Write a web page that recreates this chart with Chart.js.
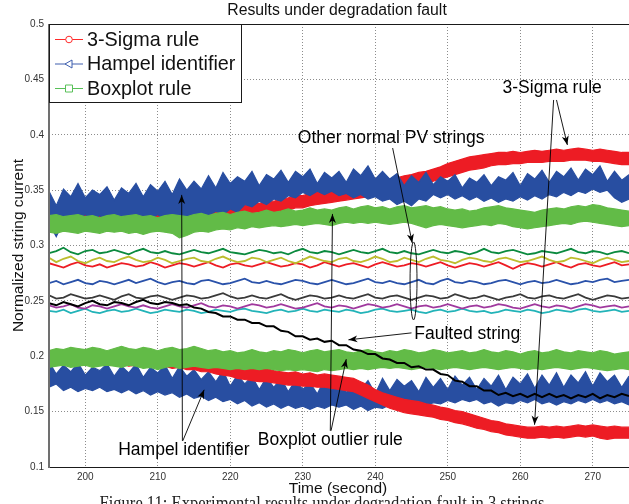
<!DOCTYPE html>
<html>
<head>
<meta charset="utf-8">
<title>Results under degradation fault</title>
<script src="https://cdn.jsdelivr.net/npm/chart.js@4.4.0/dist/chart.umd.min.js"></script>
<style>
  html, body { margin: 0; padding: 0; background: #fff; }
  canvas { display: block; }
</style>
</head>
<body>
<canvas id="chart" width="629" height="504"></canvas>
<script>
// time axis (second)
const times = [195, 196, 197, 198, 199, 200, 201, 202, 203, 204,
  205, 206, 207, 208, 209, 210, 211, 212, 213, 214,
  215, 216, 217, 218, 219, 220, 221, 222, 223, 224,
  225, 226, 227, 228, 229, 230, 231, 232, 233, 234,
  235, 236, 237, 238, 239, 240, 241, 242, 243, 244,
  245, 246, 247, 248, 249, 250, 251, 252, 253, 254,
  255, 256, 257, 258, 259, 260, 261, 262, 263, 264,
  265, 266, 267, 268, 269, 270, 271, 272, 273, 274,
  275];
const xTicks = [200, 210, 220, 230, 240, 250, 260, 270];
const yTicks = [0.1, 0.15, 0.2, 0.25, 0.3, 0.35, 0.4, 0.45, 0.5];
const yTickLabels = ['0.1', '0.15', '0.2', '0.25', '0.3', '0.35', '0.4', '0.45', '0.5'];
const legendLabels = ['3-Sigma rule', 'Hampel identifier', 'Boxplot rule'];

// 3-Sigma rule thresholds (upper / lower envelopes)
const sigmaUpHi = [0.331,0.329,0.332,0.330,0.331,0.329,0.332,0.330,0.331,0.330,
  0.332,0.330,0.331,0.329,0.332,0.330,0.331,0.330,0.332,0.331,
  0.333,0.332,0.334,0.333,0.335,0.334,0.336,0.336,0.338,0.338,
  0.340,0.340,0.342,0.343,0.345,0.345,0.347,0.348,0.349,0.351,
  0.352,0.353,0.354,0.355,0.356,0.357,0.358,0.360,0.361,0.363,
  0.364,0.366,0.367,0.369,0.371,0.374,0.376,0.378,0.380,0.381,
  0.382,0.383,0.384,0.384,0.385,0.384,0.385,0.386,0.385,0.386,
  0.387,0.386,0.387,0.388,0.387,0.386,0.387,0.386,0.385,0.384,
  0.384];
const sigmaUpLo = [0.320,0.319,0.321,0.320,0.320,0.318,0.321,0.319,0.320,0.319,
  0.321,0.319,0.320,0.318,0.321,0.319,0.320,0.319,0.321,0.320,
  0.322,0.321,0.323,0.322,0.324,0.323,0.325,0.325,0.327,0.327,
  0.329,0.329,0.331,0.332,0.334,0.334,0.336,0.337,0.338,0.339,
  0.340,0.341,0.342,0.343,0.344,0.345,0.346,0.348,0.350,0.352,
  0.353,0.355,0.356,0.358,0.360,0.362,0.364,0.366,0.368,0.369,
  0.370,0.372,0.373,0.373,0.374,0.374,0.375,0.375,0.375,0.376,
  0.376,0.376,0.377,0.377,0.377,0.376,0.376,0.375,0.374,0.373,
  0.373];
const sigmaLowHi = [0.205,0.204,0.205,0.203,0.204,0.205,0.204,0.203,0.204,0.203,
  0.204,0.202,0.203,0.202,0.203,0.201,0.202,0.200,0.201,0.199,
  0.199,0.197,0.197,0.195,0.194,0.193,0.191,0.190,0.189,0.188,
  0.189,0.187,0.186,0.185,0.186,0.184,0.185,0.183,0.184,0.183,
  0.182,0.181,0.180,0.177,0.174,0.170,0.167,0.165,0.163,0.161,
  0.160,0.159,0.157,0.156,0.154,0.153,0.151,0.150,0.148,0.146,
  0.144,0.142,0.141,0.139,0.138,0.137,0.136,0.136,0.137,0.136,
  0.137,0.136,0.137,0.138,0.137,0.138,0.137,0.136,0.137,0.136,
  0.136];
const sigmaLowLo = [0.194,0.193,0.194,0.192,0.193,0.194,0.193,0.192,0.193,0.192,
  0.193,0.191,0.192,0.191,0.192,0.190,0.191,0.189,0.190,0.188,
  0.188,0.186,0.186,0.184,0.183,0.182,0.180,0.179,0.178,0.177,
  0.177,0.176,0.175,0.174,0.174,0.173,0.173,0.172,0.172,0.171,
  0.170,0.169,0.168,0.165,0.162,0.159,0.156,0.153,0.151,0.149,
  0.148,0.147,0.146,0.145,0.143,0.142,0.140,0.139,0.137,0.135,
  0.134,0.132,0.131,0.129,0.128,0.127,0.126,0.126,0.127,0.126,
  0.127,0.126,0.127,0.128,0.127,0.128,0.126,0.125,0.126,0.126,
  0.126];

// Hampel identifier thresholds
const hampelUpHi = [0.349,0.336,0.351,0.344,0.356,0.343,0.350,0.346,0.353,0.341,
  0.352,0.347,0.356,0.344,0.355,0.349,0.358,0.346,0.360,0.350,
  0.358,0.351,0.363,0.352,0.366,0.356,0.362,0.358,0.367,0.354,
  0.364,0.360,0.368,0.357,0.367,0.362,0.369,0.356,0.366,0.361,
  0.367,0.357,0.369,0.363,0.372,0.360,0.367,0.360,0.365,0.354,
  0.363,0.357,0.366,0.355,0.362,0.358,0.364,0.352,0.361,0.357,
  0.364,0.354,0.362,0.359,0.366,0.354,0.365,0.360,0.368,0.357,
  0.367,0.362,0.370,0.359,0.369,0.364,0.372,0.358,0.367,0.359,
  0.364];
const hampelUpLo = [0.320,0.308,0.322,0.326,0.324,0.328,0.323,0.327,0.322,0.325,
  0.321,0.326,0.323,0.327,0.324,0.328,0.323,0.327,0.322,0.326,
  0.324,0.329,0.327,0.331,0.328,0.333,0.330,0.337,0.335,0.340,
  0.337,0.342,0.340,0.345,0.343,0.348,0.345,0.349,0.346,0.349,
  0.345,0.347,0.343,0.346,0.342,0.344,0.340,0.342,0.337,0.340,
  0.336,0.342,0.340,0.346,0.343,0.346,0.342,0.345,0.341,0.344,
  0.340,0.343,0.339,0.342,0.340,0.344,0.341,0.345,0.342,0.346,
  0.344,0.348,0.345,0.349,0.347,0.351,0.348,0.350,0.343,0.339,
  0.342];
const hampelLowHi = [0.195,0.184,0.192,0.186,0.194,0.183,0.190,0.187,0.193,0.182,
  0.191,0.185,0.193,0.181,0.190,0.185,0.192,0.180,0.191,0.182,
  0.188,0.179,0.186,0.177,0.187,0.173,0.183,0.175,0.182,0.170,
  0.181,0.172,0.180,0.168,0.178,0.170,0.176,0.166,0.179,0.169,
  0.181,0.167,0.177,0.170,0.178,0.166,0.180,0.169,0.179,0.173,
  0.178,0.168,0.181,0.172,0.180,0.170,0.182,0.174,0.181,0.170,
  0.180,0.173,0.183,0.170,0.181,0.175,0.184,0.171,0.183,0.174,
  0.185,0.172,0.183,0.176,0.186,0.173,0.185,0.177,0.183,0.172,
  0.182];
const hampelLowLo = [0.172,0.175,0.169,0.172,0.168,0.171,0.169,0.172,0.168,0.170,
  0.167,0.170,0.166,0.169,0.165,0.168,0.165,0.167,0.163,0.166,
  0.162,0.164,0.160,0.163,0.159,0.161,0.157,0.160,0.155,0.158,
  0.154,0.157,0.153,0.156,0.153,0.155,0.152,0.155,0.153,0.156,
  0.154,0.156,0.152,0.155,0.151,0.154,0.153,0.156,0.155,0.158,
  0.156,0.158,0.155,0.158,0.157,0.160,0.158,0.161,0.159,0.161,
  0.157,0.159,0.155,0.158,0.157,0.160,0.158,0.161,0.157,0.159,
  0.156,0.159,0.157,0.160,0.158,0.161,0.158,0.160,0.157,0.159,
  0.156];

// Boxplot rule thresholds
const boxUpHi = [0.327,0.328,0.326,0.327,0.328,0.326,0.327,0.325,0.327,0.328,
  0.326,0.327,0.328,0.326,0.327,0.325,0.327,0.328,0.327,0.326,
  0.328,0.329,0.327,0.329,0.330,0.328,0.330,0.331,0.329,0.330,
  0.332,0.330,0.331,0.333,0.331,0.332,0.334,0.332,0.333,0.332,
  0.334,0.335,0.333,0.335,0.336,0.334,0.335,0.333,0.335,0.336,
  0.334,0.335,0.336,0.334,0.335,0.333,0.332,0.333,0.331,0.332,
  0.334,0.335,0.336,0.334,0.333,0.332,0.331,0.330,0.332,0.333,
  0.334,0.333,0.335,0.336,0.335,0.337,0.336,0.334,0.333,0.332,
  0.331];
const boxUpLo = [0.312,0.311,0.313,0.312,0.311,0.313,0.312,0.311,0.313,0.312,
  0.313,0.311,0.312,0.310,0.312,0.313,0.312,0.311,0.307,0.309,
  0.312,0.313,0.312,0.314,0.315,0.314,0.316,0.315,0.317,0.316,
  0.317,0.318,0.317,0.318,0.319,0.318,0.319,0.320,0.319,0.318,
  0.320,0.321,0.320,0.321,0.320,0.321,0.320,0.319,0.320,0.321,
  0.320,0.318,0.316,0.318,0.319,0.318,0.317,0.316,0.317,0.318,
  0.319,0.318,0.320,0.319,0.317,0.316,0.315,0.316,0.317,0.318,
  0.319,0.320,0.319,0.321,0.322,0.321,0.320,0.319,0.318,0.317,
  0.318];
const boxLowHi = [0.205,0.207,0.206,0.208,0.207,0.206,0.208,0.207,0.205,0.207,
  0.209,0.207,0.206,0.208,0.207,0.205,0.207,0.208,0.206,0.207,
  0.209,0.207,0.205,0.206,0.204,0.205,0.203,0.204,0.206,0.204,
  0.203,0.205,0.204,0.206,0.205,0.203,0.205,0.206,0.204,0.205,
  0.206,0.204,0.203,0.205,0.206,0.204,0.203,0.205,0.204,0.206,
  0.205,0.203,0.204,0.206,0.205,0.203,0.204,0.205,0.203,0.204,
  0.206,0.204,0.203,0.205,0.204,0.202,0.204,0.205,0.203,0.204,
  0.206,0.204,0.203,0.205,0.204,0.203,0.205,0.204,0.202,0.203,
  0.204];
const boxLowLo = [0.190,0.191,0.192,0.190,0.191,0.192,0.190,0.191,0.192,0.191,
  0.190,0.192,0.191,0.189,0.190,0.188,0.190,0.191,0.189,0.190,
  0.191,0.190,0.189,0.190,0.189,0.188,0.189,0.188,0.189,0.188,
  0.189,0.188,0.187,0.188,0.187,0.188,0.187,0.186,0.188,0.187,
  0.188,0.189,0.188,0.189,0.188,0.189,0.190,0.189,0.190,0.189,
  0.188,0.189,0.190,0.189,0.188,0.189,0.190,0.189,0.188,0.189,
  0.190,0.189,0.188,0.189,0.190,0.189,0.188,0.189,0.188,0.189,
  0.190,0.189,0.188,0.189,0.190,0.189,0.188,0.187,0.188,0.189,
  0.188];

// normal PV strings
const stringGreen = [0.293,0.295,0.298,0.294,0.292,0.295,0.296,0.293,0.294,0.296,
  0.294,0.292,0.295,0.297,0.294,0.293,0.295,0.293,0.292,0.294,
  0.296,0.294,0.293,0.295,0.297,0.294,0.293,0.292,0.294,0.296,
  0.295,0.293,0.294,0.292,0.295,0.297,0.294,0.293,0.295,0.294,
  0.292,0.294,0.296,0.294,0.293,0.295,0.297,0.294,0.293,0.295,
  0.293,0.292,0.294,0.296,0.294,0.293,0.295,0.294,0.292,0.294,
  0.297,0.294,0.293,0.295,0.296,0.294,0.292,0.293,0.295,0.294,
  0.293,0.295,0.297,0.294,0.293,0.295,0.294,0.292,0.294,0.295,
  0.293];
const stringYellow = [0.289,0.285,0.288,0.290,0.286,0.284,0.287,0.289,0.286,0.285,
  0.288,0.290,0.287,0.285,0.286,0.289,0.287,0.284,0.286,0.288,
  0.289,0.286,0.285,0.288,0.290,0.287,0.285,0.286,0.289,0.288,
  0.285,0.287,0.289,0.286,0.284,0.287,0.290,0.288,0.286,0.285,
  0.288,0.289,0.286,0.285,0.287,0.290,0.288,0.285,0.286,0.289,
  0.287,0.285,0.288,0.290,0.287,0.286,0.284,0.287,0.289,0.288,
  0.286,0.285,0.288,0.289,0.287,0.285,0.286,0.288,0.290,0.287,
  0.285,0.286,0.289,0.288,0.286,0.284,0.287,0.289,0.287,0.285,
  0.286];
const stringRed = [0.284,0.282,0.280,0.283,0.285,0.282,0.281,0.283,0.280,0.282,
  0.284,0.283,0.281,0.282,0.285,0.283,0.280,0.282,0.284,0.283,
  0.281,0.283,0.285,0.282,0.280,0.283,0.284,0.282,0.281,0.283,
  0.285,0.283,0.281,0.282,0.284,0.283,0.280,0.282,0.285,0.283,
  0.281,0.283,0.284,0.282,0.280,0.283,0.285,0.283,0.281,0.282,
  0.284,0.283,0.281,0.283,0.285,0.282,0.280,0.282,0.284,0.283,
  0.281,0.283,0.285,0.282,0.279,0.282,0.284,0.283,0.281,0.283,
  0.285,0.282,0.280,0.283,0.284,0.282,0.281,0.283,0.285,0.282,
  0.283];
const stringBlue = [0.266,0.268,0.265,0.267,0.269,0.266,0.265,0.268,0.267,0.265,
  0.267,0.269,0.266,0.268,0.270,0.267,0.265,0.267,0.268,0.266,
  0.265,0.268,0.269,0.267,0.265,0.266,0.268,0.270,0.267,0.266,
  0.268,0.266,0.265,0.267,0.269,0.268,0.266,0.265,0.267,0.269,
  0.267,0.265,0.266,0.268,0.270,0.267,0.266,0.268,0.266,0.265,
  0.267,0.269,0.266,0.265,0.268,0.270,0.267,0.266,0.268,0.267,
  0.265,0.266,0.268,0.269,0.267,0.265,0.267,0.268,0.266,0.267,
  0.269,0.267,0.265,0.266,0.268,0.267,0.269,0.270,0.267,0.268,
  0.269];
const stringGray = [0.255,0.252,0.253,0.256,0.254,0.252,0.253,0.255,0.253,0.251,
  0.254,0.256,0.253,0.252,0.254,0.255,0.253,0.251,0.253,0.255,
  0.254,0.252,0.253,0.255,0.257,0.254,0.252,0.253,0.255,0.253,
  0.252,0.254,0.256,0.253,0.251,0.253,0.255,0.254,0.252,0.253,
  0.255,0.253,0.252,0.254,0.256,0.253,0.252,0.254,0.255,0.253,
  0.251,0.253,0.255,0.254,0.252,0.253,0.256,0.254,0.252,0.253,
  0.255,0.253,0.251,0.253,0.254,0.256,0.253,0.252,0.254,0.255,
  0.253,0.252,0.254,0.256,0.253,0.251,0.253,0.255,0.254,0.252,
  0.253];
const stringMagenta = [0.246,0.244,0.245,0.247,0.244,0.243,0.246,0.245,0.243,0.245,
  0.247,0.245,0.244,0.246,0.244,0.243,0.245,0.247,0.245,0.244,
  0.246,0.248,0.245,0.244,0.246,0.245,0.243,0.245,0.247,0.246,
  0.244,0.245,0.247,0.245,0.243,0.244,0.246,0.248,0.245,0.244,
  0.246,0.245,0.243,0.245,0.247,0.246,0.244,0.245,0.247,0.245,
  0.243,0.245,0.246,0.244,0.245,0.247,0.245,0.243,0.245,0.246,
  0.244,0.245,0.247,0.246,0.244,0.243,0.245,0.247,0.245,0.244,
  0.246,0.245,0.243,0.245,0.247,0.246,0.244,0.245,0.246,0.244,
  0.245];
const stringCyan = [0.241,0.240,0.242,0.239,0.241,0.243,0.240,0.239,0.241,0.242,
  0.240,0.241,0.243,0.241,0.239,0.240,0.242,0.241,0.240,0.242,
  0.241,0.239,0.240,0.242,0.241,0.240,0.242,0.243,0.241,0.240,
  0.239,0.241,0.242,0.240,0.241,0.243,0.241,0.240,0.242,0.241,
  0.240,0.242,0.241,0.239,0.240,0.242,0.243,0.241,0.240,0.241,
  0.242,0.240,0.239,0.241,0.242,0.240,0.241,0.243,0.241,0.240,
  0.241,0.239,0.240,0.242,0.241,0.240,0.242,0.241,0.239,0.240,
  0.242,0.241,0.240,0.242,0.243,0.241,0.240,0.241,0.242,0.240,
  0.241];
// faulted string
const stringFaulted = [0.248,0.246,0.249,0.247,0.245,0.248,0.250,0.247,0.246,0.249,
  0.248,0.246,0.249,0.251,0.248,0.247,0.249,0.248,0.246,0.247,
  0.244,0.243,0.240,0.239,0.236,0.236,0.233,0.233,0.230,0.230,
  0.227,0.227,0.223,0.222,0.218,0.218,0.215,0.216,0.213,0.214,
  0.210,0.210,0.206,0.205,0.202,0.202,0.198,0.197,0.194,0.194,
  0.190,0.191,0.188,0.188,0.184,0.183,0.178,0.177,0.173,0.173,
  0.169,0.169,0.165,0.167,0.164,0.166,0.163,0.166,0.163,0.166,
  0.163,0.165,0.162,0.165,0.163,0.166,0.162,0.165,0.163,0.166,
  0.164];

const FONT = "'Liberation Sans', Arial, Helvetica, sans-serif";

function pts(arr) {
    return times.map((t, i) => ({ x: t, y: arr[i] }));
}
function band(hi, lo, color, order) {
    return [
        { data: pts(hi), borderColor: color, backgroundColor: color, borderWidth: 1.2, fill: '+1', order: order },
        { data: pts(lo), borderColor: color, backgroundColor: color, borderWidth: 1.2, fill: false, order: order }
    ];
}
function line(arr, color, width) {
    return { data: pts(arr), borderColor: color, borderWidth: width || 1.8, fill: false, order: 0 };
}

const datasets = [].concat(
    band(sigmaUpHi, sigmaUpLo, '#ed1c24', 5),
    band(hampelUpHi, hampelUpLo, '#284ea1', 4),
    band(hampelLowHi, hampelLowLo, '#284ea1', 5),
    band(sigmaLowHi, sigmaLowLo, '#ed1c24', 4),
    band(boxUpHi, boxUpLo, '#62bb47', 2),
    band(boxLowHi, boxLowLo, '#62bb47', 2),
    [
        line(stringFaulted, '#000000', 2),
        line(stringGreen, '#0b8a3e'),
        line(stringYellow, '#bdbd2e'),
        line(stringRed, '#ed1c24'),
        line(stringBlue, '#2a52aa'),
        line(stringGray, '#3a3a3a'),
        line(stringMagenta, '#a0399e'),
        line(stringCyan, '#22b3b8')
    ]
);

// annotations, in data units
const notes = [
    { text: '3-Sigma rule', t: 264.4, v: 0.442 },
    { text: 'Other normal PV strings', t: 242.2, v: 0.397 },
    { text: 'Faulted string', t: 252.7, v: 0.2195 },
    { text: 'Boxplot outlier rule', t: 233.8, v: 0.1245 },
    { text: 'Hampel identifier', t: 213.6, v: 0.1155 }
];
const arrows = [
    [265.0, 0.4314, 266.5, 0.3908],
    [264.6, 0.4314, 261.97, 0.1381],
    [242.4, 0.388, 245.1, 0.3023],
    [245.0, 0.2211, 236.3, 0.2148],
    [233.8, 0.1327, 234.1, 0.3285],
    [233.9, 0.1327, 236.0, 0.1974],
    [213.4, 0.1236, 213.3, 0.3457],
    [213.45, 0.1236, 216.4, 0.1697]
];
const ring = { t: 245.28, v: 0.268, rt: 0.48, rv: 0.0352 };

function arrowHead(ctx, x1, y1, x2, y2) {
    const ang = Math.atan2(y2 - y1, x2 - x1);
    const len = 9, half = 3.5, notch = 6.5;
    ctx.save();
    ctx.translate(x2, y2);
    ctx.rotate(ang);
    ctx.beginPath();
    ctx.moveTo(0, 0);
    ctx.lineTo(-len, -half);
    ctx.lineTo(-notch, 0);
    ctx.lineTo(-len, half);
    ctx.closePath();
    ctx.fill();
    ctx.restore();
}

const decor = {
    id: 'decor',
    beforeDraw(chart) {
        const ctx = chart.ctx;
        ctx.save();
        ctx.fillStyle = '#fff';
        ctx.fillRect(0, 0, chart.width, chart.height);
        ctx.restore();
    },
    afterDraw(chart) {
        const ctx = chart.ctx, a = chart.chartArea;
        const sx = chart.scales.x, sy = chart.scales.y;
        const px = t => sx.getPixelForValue(t), py = v => sy.getPixelForValue(v);
        ctx.save();

        // axes box
        ctx.strokeStyle = '#1a1a1a';
        ctx.lineWidth = 1;
        ctx.beginPath();
        ctx.moveTo(a.left, a.top + 0.5); ctx.lineTo(a.right, a.top + 0.5);
        ctx.moveTo(a.left, a.bottom + 0.5); ctx.lineTo(a.right, a.bottom + 0.5);
        ctx.stroke();
        ctx.strokeStyle = '#707070';
        ctx.lineWidth = 2;
        ctx.beginPath();
        ctx.moveTo(a.left, a.top); ctx.lineTo(a.left, a.bottom + 1);
        ctx.stroke();

        // annotations
        ctx.strokeStyle = '#000';
        ctx.fillStyle = '#000';
        ctx.lineWidth = 0.9;
        arrows.forEach(ar => {
            const x1 = px(ar[0]), y1 = py(ar[1]), x2 = px(ar[2]), y2 = py(ar[3]);
            ctx.beginPath();
            ctx.moveTo(x1, y1);
            ctx.lineTo(x2, y2);
            ctx.stroke();
            arrowHead(ctx, x1, y1, x2, y2);
        });
        ctx.beginPath();
        ctx.ellipse(px(ring.t), py(ring.v), px(ring.t + ring.rt) - px(ring.t), py(ring.v - ring.rv) - py(ring.v), 0, 0, Math.PI * 2);
        ctx.stroke();

        ctx.font = '17.5px ' + FONT;
        ctx.textAlign = 'center';
        ctx.textBaseline = 'middle';
        notes.forEach(n => ctx.fillText(n.text, px(n.t), py(n.v)));

        // legend
        const lx = a.left, ly = a.top, lw = 192, lh = 78;
        ctx.fillStyle = '#fff';
        ctx.fillRect(lx, ly, lw, lh);
        ctx.strokeStyle = '#1a1a1a';
        ctx.lineWidth = 1;
        ctx.strokeRect(lx + 0.5, ly + 0.5, lw, lh);
        const legendColors = ['#ff2a2a', '#3e5fae', '#58c058'];
        ctx.font = '19.8px ' + FONT;
        ctx.textAlign = 'left';
        legendLabels.forEach((lab, i) => {
            const y = ly + 15.5 + i * 24.5;
            const c = legendColors[i];
            ctx.strokeStyle = c;
            ctx.lineWidth = 1;
            ctx.beginPath();
            ctx.moveTo(lx + 6, y); ctx.lineTo(lx + 34, y);
            ctx.stroke();
            const mx = lx + 20;
            ctx.beginPath();
            if (i === 0) ctx.arc(mx, y, 3.3, 0, Math.PI * 2);
            else if (i === 1) { ctx.moveTo(mx - 4, y); ctx.lineTo(mx + 3, y - 4); ctx.lineTo(mx + 3, y + 4); ctx.closePath(); }
            else ctx.rect(mx - 3.5, y - 3.5, 7, 7);
            ctx.fillStyle = '#fff';
            ctx.fill();
            ctx.stroke();
            ctx.fillStyle = '#111';
            ctx.fillText(lab, lx + 38, y + 1);
        });

        // title and axis titles
        ctx.fillStyle = '#111';
        ctx.textAlign = 'center';
        ctx.font = '15.8px ' + FONT;
        ctx.fillText('Results under degradation fault', (a.left + a.right) / 2 - 2, 11);
        ctx.font = '15.5px ' + FONT;
        ctx.fillText('Time (second)', (a.left + a.right) / 2 - 1, 489);
        ctx.save();
        ctx.translate(19, (a.top + a.bottom) / 2);
        ctx.rotate(-Math.PI / 2);
        ctx.fillText('Normalized string current', 0, 0);
        ctx.restore();

        // figure caption, cut by the page edge
        ctx.font = '19px "Liberation Serif", "Times New Roman", serif';
        ctx.textBaseline = 'alphabetic';
        ctx.fillStyle = '#222';
        ctx.fillText('Figure 11: Experimental results under degradation fault in 3 strings', 322, 509, 445);
        ctx.restore();
    }
};

new Chart(document.getElementById('chart').getContext('2d'), {
    type: 'line',
    data: { datasets: datasets },
    options: {
        responsive: false,
        animation: false,
        devicePixelRatio: 1,
        layout: { padding: { top: 24, left: 0, right: 0, bottom: 0 } },
        elements: { point: { radius: 0 }, line: { tension: 0 } },
        plugins: { legend: { display: false }, tooltip: { enabled: false }, title: { display: false } },
        scales: {
            x: {
                type: 'linear', min: 195, max: 275,
                afterBuildTicks: s => { s.ticks = xTicks.map(v => ({ value: v })); },
                afterFit: s => { s.height = 37; },
                grid: { color: '#8c8c8c', lineWidth: 1, drawTicks: false },
                border: { display: false, dash: [1, 2] },
                ticks: { font: { size: 10, family: FONT }, color: '#333', padding: 4, maxRotation: 0, autoSkip: false }
            },
            y: {
                type: 'linear', min: 0.1, max: 0.5,
                afterBuildTicks: s => { s.ticks = yTicks.map(v => ({ value: v })); },
                afterFit: s => { s.width = 49; },
                grid: { color: '#8c8c8c', lineWidth: 1, drawTicks: false },
                border: { display: false, dash: [1, 2] },
                ticks: {
                    font: { size: 10, family: FONT }, color: '#333', padding: 5, autoSkip: false,
                    callback: (v, i) => yTickLabels[yTicks.indexOf(Math.round(v * 100) / 100)] || ''
                }
            }
        }
    },
    plugins: [decor]
});
</script>
</body>
</html>
